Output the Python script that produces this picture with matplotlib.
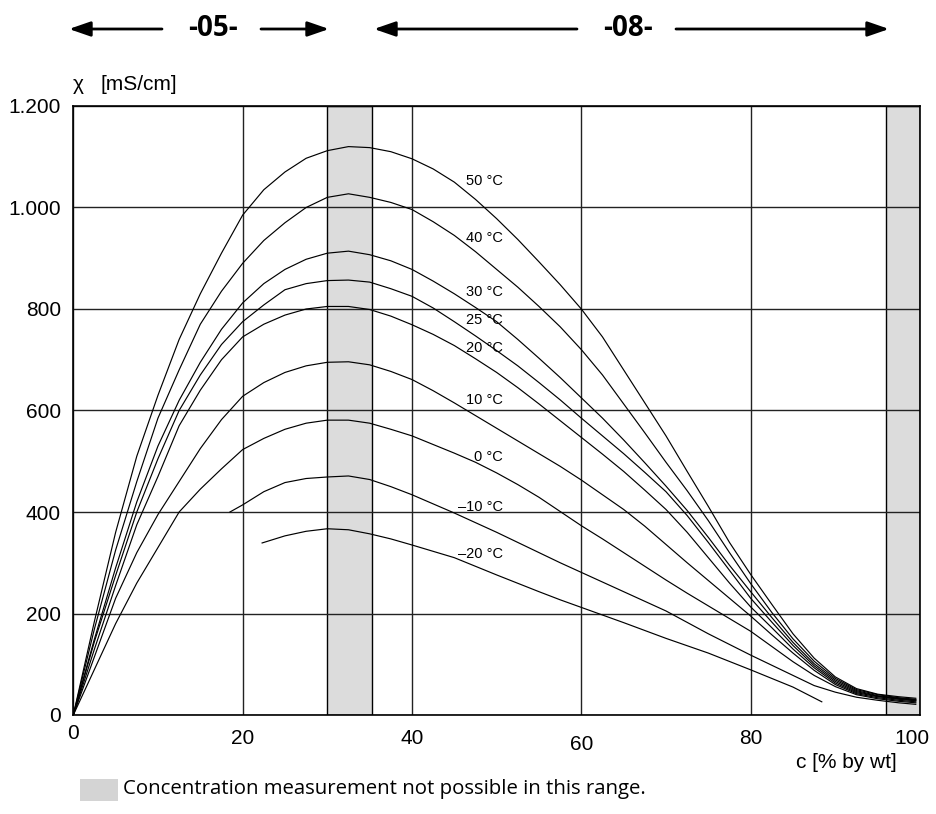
import matplotlib
matplotlib.use("Agg")
import matplotlib.pyplot as plt
from matplotlib.transforms import ScaledTranslation
from matplotlib.patches import Rectangle, FancyArrowPatch

# ---------------- data ----------------
X_MAIN = [0, 2.5, 5, 7.5, 10, 12.5, 15, 17.5, 20, 22.5, 25, 27.5, 30, 32.5, 35,
          37.5, 40, 42.5, 45, 47.5, 50, 52.5, 55, 57.5, 60, 62.5, 65, 67.5, 70,
          72.5, 75, 77.5, 80, 82.5, 85, 87.5, 90, 92.5, 95, 97.5, 99.5]

T50 = [0, 185, 360, 510, 630, 740, 830, 910, 985, 1035, 1070, 1097, 1112, 1120, 1118,
       1110, 1096, 1076, 1050, 1016, 978, 937, 893, 848, 800, 745, 680, 615, 550,
       480, 411, 340, 277, 218, 160, 112, 75, 52, 41, 36, 33]
T40 = [0, 170, 325, 460, 585, 680, 770, 835, 890, 935, 970, 1000, 1020, 1027, 1020,
       1010, 996, 972, 945, 913, 878, 843, 805, 765, 720, 670, 613, 556, 498,
       442, 383, 320, 259, 202, 150, 106, 72, 50, 40, 34, 31]
T30 = [0, 150, 290, 420, 530, 620, 695, 760, 812, 850, 878, 898, 910, 914, 907,
       895, 878, 855, 830, 803, 775, 740, 703, 665, 625, 585, 542, 497, 451,
       403, 350, 295, 243, 192, 143, 101, 69, 48, 38, 33, 30]
T25 = [0, 145, 275, 400, 505, 600, 670, 730, 775, 808, 838, 850, 856, 857, 853,
       840, 825, 802, 775, 747, 718, 688, 655, 621, 585, 550, 515, 478, 440,
       393, 340, 285, 230, 183, 137, 97, 66, 46, 37, 32, 29]
T20 = [0, 130, 255, 375, 470, 570, 640, 700, 745, 770, 788, 800, 805, 805, 799,
       786, 769, 750, 728, 702, 675, 645, 613, 580, 547, 514, 480, 443, 405,
       360, 310, 260, 213, 172, 130, 93, 63, 44, 36, 31, 28]
T10 = [0, 115, 230, 320, 395, 460, 525, 582, 628, 655, 675, 688, 695, 696, 690,
       677, 661, 639, 615, 590, 565, 540, 515, 490, 463, 434, 405, 372, 336,
       300, 265, 230, 195, 158, 122, 88, 60, 42, 34, 29, 26]
T0 = [0, 90, 180, 260, 330, 400, 445, 485, 523, 545, 563, 575, 581, 581, 575,
      563, 550, 533, 516, 498, 477, 454, 429, 401, 373, 347, 320, 293, 266,
      240, 215, 190, 165, 135, 105, 78, 56, 40, 32, 27, 24]

X_M10 = [18.5, 20, 22.5, 25, 27.5, 30, 32.5, 35, 37.5, 40, 45, 50, 55, 57.5, 60, 65,
         70, 75, 80, 85, 87.5, 90, 92.5, 95, 97.5, 99.5]
TM10 = [400, 414, 440, 458, 466, 469, 471, 464, 450, 434, 398, 360, 320, 300, 281,
        243, 205, 160, 118, 78, 58, 45, 35, 29, 24, 21]

X_M20 = [22.3, 25, 27.5, 30, 32.5, 35, 37.5, 40, 45, 50, 55, 57.5, 60, 65, 70, 75,
         80, 85, 88.4]
TM20 = [339, 353, 362, 367, 365, 357, 347, 335, 310, 276, 243, 227, 212, 182, 151,
        122, 89, 55, 26]

SERIES = [
    ("50 °C", X_MAIN, T50, 1052),
    ("40 °C", X_MAIN, T40, 939),
    ("30 °C", X_MAIN, T30, 834),
    ("25 °C", X_MAIN, T25, 779),
    ("20 °C", X_MAIN, T20, 723),
    ("10 °C", X_MAIN, T10, 621),
    ("0 °C", X_MAIN, T0, 509),
    ("–10 °C", X_M10, TM10, 410),
    ("–20 °C", X_M20, TM20, 318),
]
LABEL_X = 50.7

SHADES = [(30.0, 35.3), (96.0, 100.0)]

X_TICKS = [0, 20, 40, 60, 80, 100]
X_TICKLABELS = ["0", "20", "40", "60", "80", "100"]
Y_TICKS = [0, 200, 400, 600, 800, 1000, 1200]
Y_TICKLABELS = ["0", "200", "400", "600", "800", "1.000", "1.200"]

# ---------------- figure ----------------
W, H = 936, 814
fig = plt.figure(figsize=(W / 100, H / 100), dpi=100)
left, right, bottom, top = 73.3, 920, 715, 106
ax = fig.add_axes([left / W, 1 - bottom / H, (right - left) / W, (bottom - top) / H])
ax.set_xlim(0, 100)
ax.set_ylim(0, 1200)

TICKFONT = dict(family=["Liberation Sans", "DejaVu Sans"], size=15)

for x0, x1 in SHADES:
    ax.add_patch(Rectangle((x0, 0), x1 - x0, 1200, facecolor="#dcdcdc",
                           edgecolor="black", lw=1.0, zorder=1))

ax.set_xticks(X_TICKS)
ax.set_yticks(Y_TICKS)
ax.grid(True, color="#222222", lw=1.0, zorder=2)
ax.set_axisbelow(False)
ax.tick_params(length=0)
ax.set_xticklabels(X_TICKLABELS, fontdict=TICKFONT)
ax.set_yticklabels(Y_TICKLABELS, fontdict=TICKFONT)
ax.tick_params(axis="x", pad=10)
ax.tick_params(axis="y", pad=9)
for spine in ax.spines.values():
    spine.set_linewidth(1.2)
    spine.set_zorder(5)

for lbl in ax.get_xticklabels():
    t = lbl.get_text()
    dx, dy = 0, 0
    if t == "60":
        dy = -6
    elif t == "0":
        dy = 5
    elif t == "100":
        dx = -8
    if dx or dy:
        lbl.set_transform(lbl.get_transform() + ScaledTranslation(dx / 100, dy / 100, fig.dpi_scale_trans))

for name, xs, ys, ly in SERIES:
    ax.plot(xs, ys, color="black", lw=0.85, zorder=3, solid_joinstyle="round")
    ax.text(LABEL_X, ly, name, ha="right", va="center", zorder=4,
            family=["Liberation Sans", "DejaVu Sans"], size=10.5)

# axis titles
fig.text(73 / W, 1 - 85 / H, "χ", ha="left", va="center",
         family=["Liberation Sans", "DejaVu Sans"], size=15)
fig.text(100 / W, 1 - 85 / H, "[mS/cm]", ha="left", va="center",
         family=["Liberation Sans", "DejaVu Sans"], size=15)
fig.text(897 / W, 1 - 762 / H, "c [% by wt]", ha="right", va="center",
         family=["Liberation Sans", "DejaVu Sans"], size=15)

# header ranges
HFONT = dict(family=["Open Sans", "DejaVu Sans"], size=20, weight="bold")
hy = 1 - 29 / H
fig.text(213 / W, hy, "-05-", ha="center", va="center", **HFONT)
fig.text(628 / W, hy, "-08-", ha="center", va="center", **HFONT)
arrow_kw = dict(arrowstyle="-|>,head_length=1.3,head_width=0.45", color="black", lw=2.0,
                mutation_scale=10, shrinkA=0, shrinkB=0)
for xs, xe in [(162, 69), (261, 329), (577, 374), (676, 889)]:
    fig.patches.append(FancyArrowPatch(
        (xs / W, hy), (xe / W, hy), transform=fig.transFigure, **arrow_kw))

# legend
fig.patches.append(Rectangle((80 / W, 1 - 801 / H), 38 / W, 22 / H,
                             transform=fig.transFigure, facecolor="#d4d4d4",
                             edgecolor="none"))
fig.text(123 / W, 1 - 789 / H, "Concentration measurement not possible in this range.",
         ha="left", va="center", family=["Open Sans", "DejaVu Sans"], size=14.7)

fig.savefig("out.png", dpi=100)
